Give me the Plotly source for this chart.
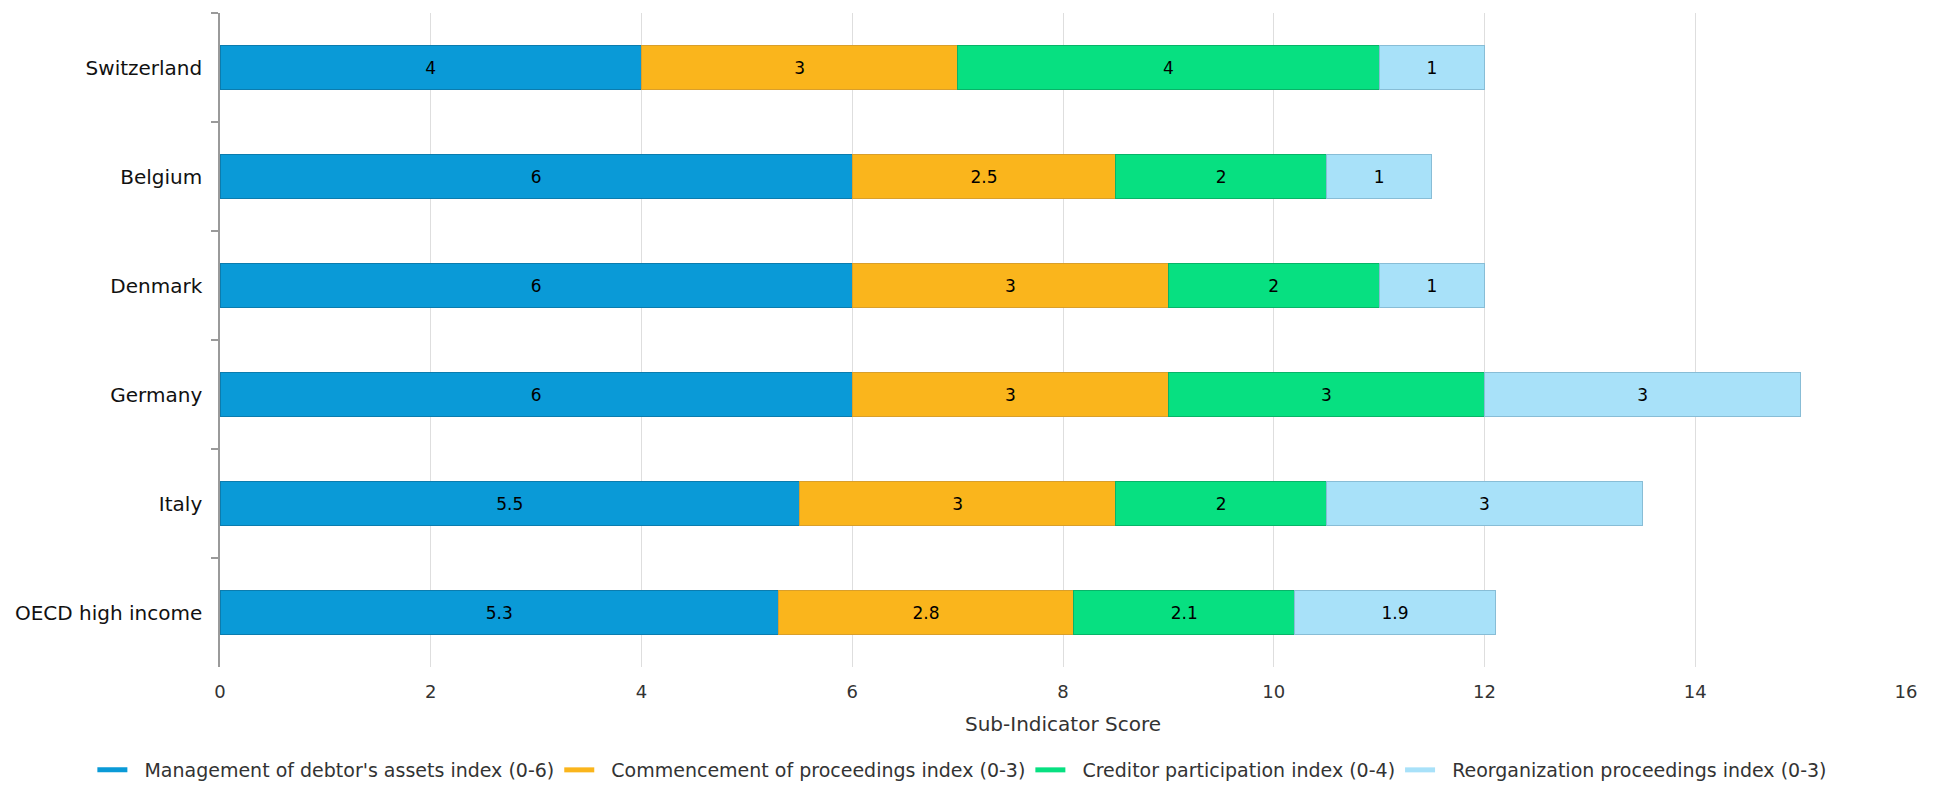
import plotly.graph_objects as go

countries = ["Switzerland", "Belgium", "Denmark", "Germany", "Italy", "OECD high income"]

series_names = [
    "Management of debtor's assets index (0-6)",
    "Commencement of proceedings index (0-3)",
    "Creditor participation index (0-4)",
    "Reorganization proceedings index (0-3)",
]

debtor_assets = [4, 6, 6, 6, 5.5, 5.3]
commencement = [3, 2.5, 3, 3, 3, 2.8]
creditor_part = [4, 2, 2, 3, 2, 2.1]
reorganization = [1, 1, 1, 3, 3, 1.9]

x_ticks = [0, 2, 4, 6, 8, 10, 12, 14, 16]

fills = ["#0A9AD7", "#FAB51C", "#07E081", "#A8E1F9"]
borders = ["#0B7CAE", "#D99F2B", "#08B468", "#88BDD6"]

FONT = "DejaVu Sans"
PAD = "\u00a0\u00a0"  # gap between legend line and its label

fig = go.Figure()

for name, vals, col, edge in zip(series_names,
                                 [debtor_assets, commencement, creditor_part, reorganization],
                                 fills, borders):
    fig.add_trace(go.Bar(
        x=vals, y=countries, orientation="h", name=name,
        text=[f"{v:g}" for v in vals],
        textposition="inside", insidetextanchor="middle", textangle=0,
        constraintext="none",
        textfont=dict(family=FONT, size=17, color="#000000"),
        marker=dict(color=col, line=dict(color=edge, width=1)),
        showlegend=False,
    ))
    # legend entry drawn as a short thick line, like the reference
    fig.add_trace(go.Scatter(
        x=[None], y=[None], mode="lines", name=PAD + name,
        line=dict(color=col, width=5),
    ))

# the page body adds an 8px offset, so margins are trimmed by that much
fig.update_layout(
    width=1945, height=785,
    barmode="stack",
    bargap=0.59,
    plot_bgcolor="white",
    paper_bgcolor="white",
    font=dict(family=FONT, color="#333333"),
    margin=dict(l=212, r=47, t=5, b=126, autoexpand=False),
    xaxis=dict(
        range=[0, 16],
        tickvals=x_ticks,
        showgrid=True, gridcolor="#DEDEDE", gridwidth=1,
        zeroline=False, showline=False,
        tickfont=dict(size=18, color="#333333"),
        ticklabelstandoff=12,
        title=dict(text="Sub-Indicator Score", font=dict(size=20, color="#333333"), standoff=15),
    ),
    yaxis=dict(
        autorange="reversed",
        showgrid=False,
        showline=True, linecolor="#9A9A9A", linewidth=1.5,
        ticks="outside", ticklen=7, tickcolor="#9A9A9A", tickwidth=1.5,
        tickson="boundaries",
        tickfont=dict(size=20, color="#111111"),
        ticklabelstandoff=12,
    ),
    legend=dict(
        orientation="h",
        x=-0.0757, xanchor="left",
        y=-0.1575, yanchor="middle",
        font=dict(size=19, color="#333333"),
        traceorder="normal",
    ),
)

fig.write_html("out.html")
